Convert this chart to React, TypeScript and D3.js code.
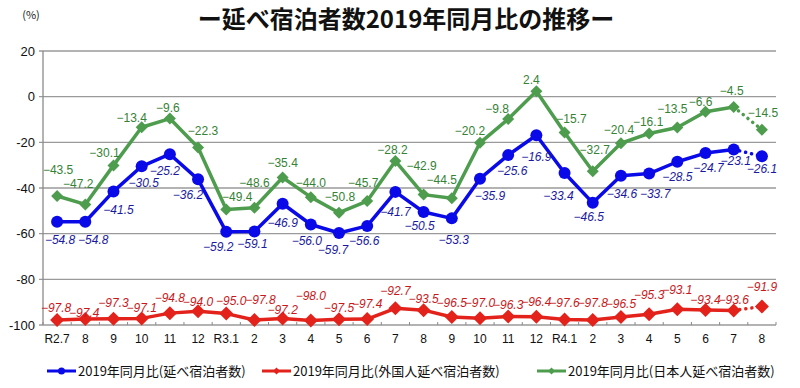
import React from "react";
import * as d3 from "d3";

// months R2.7 .. R4.8
const categories = [
  "R2.7", "8", "9", "10", "11", "12",
  "R3.1", "2", "3", "4", "5", "6", "7", "8", "9", "10", "11", "12",
  "R4.1", "2", "3", "4", "5", "6", "7", "8",
];

// 2019年同月比(延べ宿泊者数)
const totalValues = [
  -54.8, -54.8, -41.5, -30.5, -25.2, -36.2,
  -59.2, -59.1, -46.9, -56.0, -59.7, -56.6, -41.7, -50.5, -53.3, -35.9, -25.6, -16.9,
  -33.4, -46.5, -34.6, -33.7, -28.5, -24.7, -23.1, -26.1,
];

// 2019年同月比(外国人延べ宿泊者数)
const foreignValues = [
  -97.8, -97.4, -97.3, -97.1, -94.8, -94.0,
  -95.0, -97.8, -97.2, -98.0, -97.5, -97.4, -92.7, -93.5, -96.5, -97.0, -96.3, -96.4,
  -97.6, -97.8, -96.5, -95.3, -93.1, -93.4, -93.6, -91.9,
];

// 2019年同月比(日本人延べ宿泊者数)
const japaneseValues = [
  -43.5, -47.2, -30.1, -13.4, -9.6, -22.3,
  -49.4, -48.6, -35.4, -44.0, -50.8, -45.7, -28.2, -42.9, -44.5, -20.2, -9.8, 2.4,
  -15.7, -32.7, -20.4, -16.1, -13.5, -6.6, -4.5, -14.5,
];

const yTicks = [20, 0, -20, -40, -60, -80, -100];

const seriesNames = [
  "2019年同月比(延べ宿泊者数)",
  "2019年同月比(外国人延べ宿泊者数)",
  "2019年同月比(日本人延べ宿泊者数)",
];

// how far each data label sits from its marker (px, label centre), as placed in the original
const totalLabelLift = [18, 18, 18, 16, 16, 15, 15, 12, 19, 16, 17, 15, 20, 14, 21, 17, 15, 21, 23, 14, 18, 20, 15, 14, 11, 12];
const foreignLabelLift = [-12, -7, -16, -11, -16, -10, -13, -20, -9, -25, -12, -16, -18, -12, -15, -16, -12, -15, -17, -17, -14, -20, -20, -10, -11, -20];
const japaneseLabelLift = [-26, -21, -13, -10, -11, -17, -13, -25, -15, -15, -16, -19, -12, -29, -19, -12, -11, -12, -14, -22, -14, -12, -19, -10, -16, -17];
const totalLabelSide = [3, 8, 5, 2, -5, -10, -8, -2, 0, -4, -6, -3, 0, -4, 2, 10, 4, 0, -6, -4, 1, 6, 0, 3, 2, 0];
const japaneseLabelSide = [1, -7, -9, -10, -2, 5, 11, 0, 0, 0, 1, -4, -3, -2, -10, -10, -11, -5, 7, 2, -2, -1, -5, -5, -2, 1];
const foreignLabelSide = [-1, -1, 0, 0, 0, 0, 5, 6, 0, 0, 0, 0, 0, 0, 0, 0, 0, 0, 0, 0, 0, 0, 0, 0, 0, 0];

const W = 800;
const H = 388;
const margin = { left: 43, right: 24, top: 51, bottom: 63 };

const JP = "'Noto Sans CJK JP', 'Noto Sans', sans-serif";
const NUM = "'Liberation Sans', Arial, sans-serif";

const fmt = (v: number) => (v < 0 ? "\u2212" + Math.abs(v).toFixed(1) : v.toFixed(1));

type Series = {
  name: string;
  values: number[];
  lift: number[];
  side: number[];
  line: string;
  label: string;
  marker: "circle" | "diamond";
  size: number;
  italic: boolean;
};

const series: Series[] = [
  { name: seriesNames[2], values: japaneseValues, lift: japaneseLabelLift, side: japaneseLabelSide, line: "#4e9d4e", label: "#368236", marker: "diamond", size: 6, italic: false },
  { name: seriesNames[1], values: foreignValues, lift: foreignLabelLift, side: foreignLabelSide, line: "#e3231b", label: "#c8181c", marker: "diamond", size: 7, italic: true },
  { name: seriesNames[0], values: totalValues, lift: totalLabelLift, side: totalLabelSide, line: "#0a0ae8", label: "#1a1aa0", marker: "circle", size: 6, italic: true },
];

const Marker = ({ kind, x, y, r, fill }: { kind: string; x: number; y: number; r: number; fill: string }) =>
  kind === "circle" ? (
    <circle cx={x} cy={y} r={r} fill={fill} />
  ) : (
    <path d={`M${x},${y - r}L${x + r},${y}L${x},${y + r}L${x - r},${y}Z`} fill={fill} />
  );

export default function App() {
  const x = d3
    .scaleBand<number>()
    .domain(d3.range(categories.length))
    .range([margin.left, W - margin.right]);
  const y = d3.scaleLinear().domain([-100, 20]).range([H - margin.bottom, margin.top]);
  const cx = (i: number) => (x(i) as number) + x.bandwidth() / 2;

  const line = d3
    .line<number>()
    .x((_, i) => cx(i))
    .y((d) => y(d));

  const last = categories.length - 1;
  const legendX = [47, 262, 537];

  return (
    <svg
      width={W}
      height={H}
      style={{ position: "absolute", left: 0, top: 0, background: "#fff" }}
    >
      {/* title */}
      <text x={406} y={28} textAnchor="middle" fontFamily={JP} fontWeight="bold" fontSize={24} fill="#111">
        ー延べ宿泊者数2019年同月比の推移ー
      </text>
      <text x={31} y={19} textAnchor="middle" fontFamily={JP} fontSize={11} fill="#222">
        (%)
      </text>

      {/* grid + y axis */}
      {yTicks.map((t) => (
        <g key={t}>
          <line x1={margin.left - 4} x2={W - margin.right} y1={y(t)} y2={y(t)} stroke="#9a9a9a" strokeWidth={1.3} />
          <text x={35} y={y(t) + 4.5} textAnchor="end" fontFamily={NUM} fontSize={13} fill="#111">
            {t < 0 ? "-" + Math.abs(t) : t}
          </text>
        </g>
      ))}
      <line x1={margin.left} x2={margin.left} y1={y(20)} y2={y(-100)} stroke="#8a8a8a" strokeWidth={1.3} />

      {/* x axis ticks + labels */}
      {d3.range(categories.length + 1).map((i) => {
        const xx = margin.left + i * x.bandwidth();
        return <line key={"t" + i} x1={xx} x2={xx} y1={y(-100)} y2={y(-100) - 3} stroke="#8a8a8a" strokeWidth={1} />;
      })}
      {categories.map((c, i) => (
        <text key={"c" + i} x={cx(i)} y={y(-100) + 18} textAnchor="middle" fontFamily={NUM} fontSize={12} fill="#111">
          {c}
        </text>
      ))}

      {/* series */}
      {series.map((s) => (
        <g key={s.name}>
          <path d={line(s.values.slice(0, last)) || ""} fill="none" stroke={s.line} strokeWidth={3.5} strokeLinejoin="round" />
          <line
            x1={cx(last - 1)}
            y1={y(s.values[last - 1])}
            x2={cx(last)}
            y2={y(s.values[last])}
            stroke={s.line}
            strokeWidth={3.5}
            strokeLinecap="round"
            strokeDasharray="0.1 6"
          />
          {s.values.map((v, i) => (
            <Marker key={i} kind={s.marker} x={cx(i)} y={y(v)} r={s.size} fill={s.line} />
          ))}
        </g>
      ))}

      {/* value labels */}
      {series.map((s) =>
        s.values.map((v, i) => (
          <text
            key={s.name + i}
            x={cx(i) + s.side[i]}
            y={y(v) + s.lift[i] + 4.5}
            textAnchor="middle"
            fontFamily={NUM}
            fontSize={12}
            fontStyle={s.italic ? "italic" : "normal"}
            fill={s.label}
          >
            {fmt(v)}
          </text>
        ))
      )}

      {/* legend */}
      {[series[2], series[1], series[0]].map((s, k) => (
        <g key={"lg" + k}>
          <line x1={legendX[k]} x2={legendX[k] + 29} y1={371} y2={371} stroke={s.line} strokeWidth={3} />
          <Marker kind={s.marker} x={legendX[k] + 14.5} y={371} r={3.5} fill={s.line} />
          <text x={legendX[k] + 31} y={376} fontFamily={JP} fontSize={13} fill="#111">
            {s.name}
          </text>
        </g>
      ))}
    </svg>
  );
}
